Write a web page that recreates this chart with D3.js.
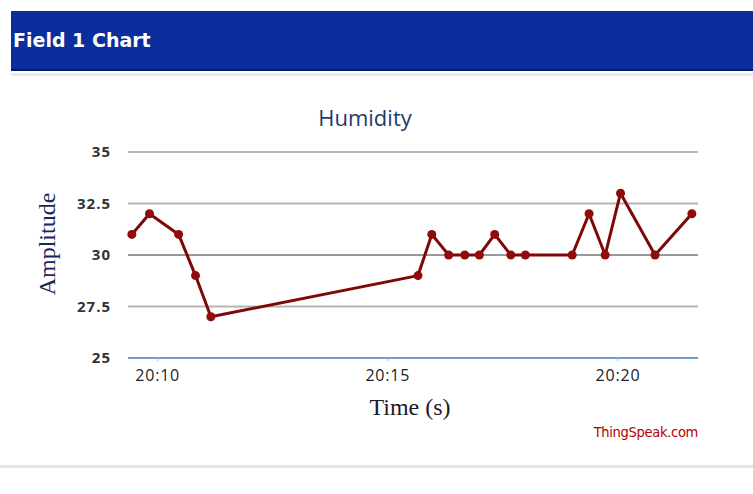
<!DOCTYPE html>
<html>
<head>
<meta charset="utf-8">
<script src="https://cdn.jsdelivr.net/npm/d3@7"></script>
<style>
  body { margin: 0; background: #fff; }
  svg { display: block; }
</style>
</head>
<body>
<svg id="chart"></svg>
<script>
// readings (time of day, humidity)
const times = ["20:09:27", "20:09:50", "20:10:28", "20:10:50", "20:11:10",
    "20:15:40", "20:15:58", "20:16:20", "20:16:41", "20:17:00", "20:17:20",
    "20:17:41", "20:18:00", "20:19:01", "20:19:23", "20:19:44", "20:20:04",
    "20:20:49", "20:21:37"];
const humidity = [31, 32, 31, 29, 27, 29, 31, 30, 30, 30, 31, 30, 30, 30, 32, 30, 33, 30, 32];
const yTicks = [25, 27.5, 30, 32.5, 35];
const xTicks = ["20:10", "20:15", "20:20"];
const xStart = "20:09:22";
const xEnd = "20:21:45";

const parse = d3.timeParse("%H:%M:%S");
const parseTick = d3.timeParse("%H:%M");
const data = times.map((t, i) => ({ t: parse(t), v: humidity[i] }));

const width = 753;
const height = 494;
const margin = { top: 152, right: 55, bottom: 136, left: 128 };

const svg = d3.select("#chart").attr("width", width).attr("height", height);

// header bar
svg.append("rect")
    .attr("x", 11).attr("y", 11).attr("width", width - 11).attr("height", 60)
    .attr("fill", "#0a2f9c");
svg.append("rect")
    .attr("x", 11).attr("y", 69).attr("width", width - 11).attr("height", 2)
    .attr("fill", "#061a66");
svg.append("rect")
    .attr("x", 11).attr("y", 73).attr("width", width - 11).attr("height", 3)
    .attr("fill", "#e6ece8");
svg.append("text")
    .attr("x", 13).attr("y", 47)
    .attr("fill", "#fff")
    .attr("font-family", "DejaVu Sans")
    .attr("font-weight", "bold")
    .attr("font-size", 19)
    .text("Field 1 Chart");

// bottom border
svg.append("rect")
    .attr("x", 0).attr("y", 465).attr("width", width).attr("height", 3)
    .attr("fill", "#e4e4e4");

const x = d3.scaleTime()
    .domain([parse(xStart), parse(xEnd)])
    .range([margin.left, width - margin.right]);

const y = d3.scaleLinear()
    .domain([25, 35])
    .range([height - margin.bottom, margin.top]);

// gridlines
svg.append("g")
    .selectAll("line")
    .data(yTicks)
    .join("line")
    .attr("x1", margin.left)
    .attr("x2", width - margin.right)
    .attr("y1", d => y(d))
    .attr("y2", d => y(d))
    .attr("stroke", d => d === 25 ? "#6f9fcc" : d === 30 ? "#777" : "#b5b5b5")
    .attr("stroke-width", d => d === 30 ? 1.5 : 2);

// Y Axis labels
svg.append("g")
    .attr("transform", `translate(${margin.left - 14},0)`)
    .call(d3.axisLeft(y).tickValues(yTicks).tickSize(0).tickFormat(d3.format("")))
    .call(g => g.select(".domain").remove())
    .selectAll("text")
    .attr("fill", "#333")
    .attr("font-family", "Open Sans")
    .attr("font-weight", "bold")
    .attr("font-size", 15)
    .attr("letter-spacing", 1);

// X Axis labels
svg.append("g")
    .attr("transform", `translate(0,${height - margin.bottom})`)
    .call(d3.axisBottom(x).tickValues(xTicks.map(parseTick)).tickSize(3)
        .tickFormat(d3.timeFormat("%H:%M")))
    .call(g => g.select(".domain").remove())
    .call(g => g.selectAll("line").attr("stroke", "#9fbfe0"))
    .selectAll("text")
    .attr("dy", "1.05em")
    .attr("fill", "#222")
    .attr("font-family", "Open Sans")
    .attr("font-size", 16)
    .attr("letter-spacing", 0.8);

// titles
svg.append("text")
    .attr("x", 365).attr("y", 126)
    .attr("text-anchor", "middle")
    .attr("fill", "#1f3b6e")
    .attr("font-family", "Open Sans")
    .attr("font-size", 22)
    .text("Humidity");

svg.append("text")
    .attr("transform", `translate(55,244) rotate(-90)`)
    .attr("text-anchor", "middle")
    .attr("fill", "#1c2657")
    .attr("font-family", "Liberation Serif")
    .attr("font-size", 24)
    .text("Amplitude");

svg.append("text")
    .attr("x", 410).attr("y", 415)
    .attr("text-anchor", "middle")
    .attr("fill", "#1a1a2a")
    .attr("font-family", "Liberation Serif")
    .attr("font-size", 24)
    .text("Time (s)");

svg.append("text")
    .attr("x", width - margin.right).attr("y", 437)
    .attr("text-anchor", "end")
    .attr("fill", "#b00000")
    .attr("font-family", "DejaVu Sans Condensed")
    .attr("font-size", 14.5)
    .attr("letter-spacing", -0.3)
    .text("ThingSpeak.com");

// line
const line = d3.line()
    .x(d => x(d.t))
    .y(d => y(d.v));

svg.append("path")
    .datum(data)
    .attr("fill", "none")
    .attr("stroke", "#7c0808")
    .attr("stroke-width", 3)
    .attr("stroke-linejoin", "round")
    .attr("d", line);

svg.append("g")
    .selectAll("circle")
    .data(data)
    .join("circle")
    .attr("cx", d => x(d.t))
    .attr("cy", d => y(d.v))
    .attr("r", 4.5)
    .attr("fill", "#920b0b");
</script>
</body>
</html>
